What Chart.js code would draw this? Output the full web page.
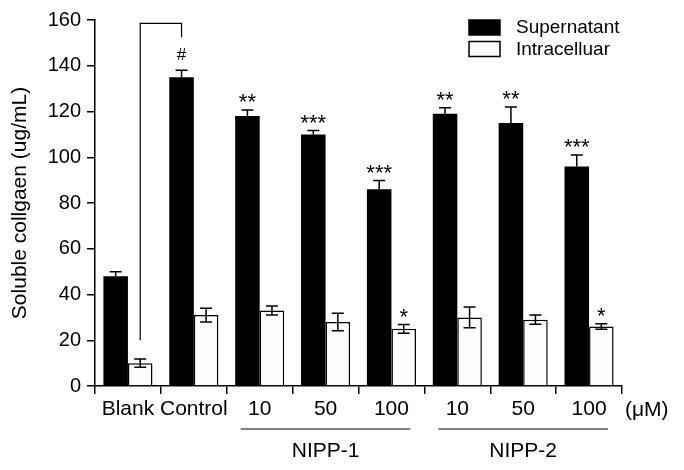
<!DOCTYPE html>
<html>
<head>
<meta charset="utf-8">
<script src="https://cdn.jsdelivr.net/npm/chart.js@4.4.1/dist/chart.umd.min.js"></script>
<style>
    html, body { margin: 0; padding: 0; background: #fff; }
    #wrap { width: 684px; height: 470px; }
</style>
</head>
<body>
<div id="wrap"><canvas id="collagenChart" width="684" height="470"></canvas></div>
<script>
// Данные
const CATEGORIES = ['Blank', 'Control', '10', '50', '100', '10', '50', '100'];
const SUPERNATANT = [48, 135, 118, 110, 86, 119, 115, 96];
const SUPERNATANT_ERR = [2, 3, 2.7, 1.7, 3.8, 2.6, 7, 5];
const INTRACELLULAR = [10, 31, 33, 28, 25, 30, 29, 26];
const INTRACELLULAR_ERR = [1.8, 3, 2, 3.8, 1.9, 4.5, 2, 1.2];
const SUPERNATANT_MARKS = ['', '#', '**', '***', '***', '**', '**', '***'];
const INTRACELLULAR_MARKS = ['', '', '', '', '*', '', '', '*'];
const GROUPS = [
    { label: 'NIPP-1', from: 2, to: 4 },
    { label: 'NIPP-2', from: 5, to: 7 }
];
const Y_TICKS = [0, 20, 40, 60, 80, 100, 120, 140, 160];

const FONT = '"Liberation Sans", Arial, sans-serif';

// Планки погрешностей и звёздочки
const errorBarsPlugin = {
    id: 'errorBars',
    afterDatasetsDraw(chart) {
        const ctx = chart.ctx;
        const y = chart.scales.y;
        const sets = [
            { meta: chart.getDatasetMeta(0), vals: SUPERNATANT, errs: SUPERNATANT_ERR, marks: SUPERNATANT_MARKS, lower: false },
            { meta: chart.getDatasetMeta(1), vals: INTRACELLULAR, errs: INTRACELLULAR_ERR, marks: INTRACELLULAR_MARKS, lower: true }
        ];
        ctx.save();
        ctx.strokeStyle = '#000';
        ctx.lineWidth = 1.5;
        sets.forEach(s => {
            s.meta.data.forEach((bar, i) => {
                const top = y.getPixelForValue(s.vals[i] + s.errs[i]);
                const bottom = s.lower ? y.getPixelForValue(s.vals[i] - s.errs[i]) : bar.y;
                ctx.beginPath();
                ctx.moveTo(bar.x, bottom);
                ctx.lineTo(bar.x, top);
                ctx.moveTo(bar.x - 6, top);
                ctx.lineTo(bar.x + 6, top);
                if (s.lower) {
                    ctx.moveTo(bar.x - 6, bottom);
                    ctx.lineTo(bar.x + 6, bottom);
                }
                ctx.stroke();

                const mark = s.marks[i];
                if (mark) {
                    ctx.fillStyle = '#000';
                    ctx.textAlign = 'center';
                    ctx.textBaseline = 'alphabetic';
                    if (mark === '#') {
                        ctx.font = '17px ' + FONT;
                        ctx.fillText(mark, bar.x, top - 10);
                    } else {
                        ctx.font = '22px ' + FONT;
                        ctx.fillText(mark, bar.x, top - 0.5);
                    }
                }
            });
        });
        ctx.restore();
    }
};

// Скобка, группы, единицы и легенда
const annotationsPlugin = {
    id: 'annotations',
    afterDraw(chart) {
        const ctx = chart.ctx;
        const x = chart.scales.x;
        const y = chart.scales.y;
        const area = chart.chartArea;
        const blankIntra = chart.getDatasetMeta(1).data[0];
        const controlSup = chart.getDatasetMeta(0).data[1];

        ctx.save();
        ctx.strokeStyle = '#000';
        ctx.fillStyle = '#000';
        ctx.lineWidth = 1.2;

        // скобка Blank - Control
        ctx.beginPath();
        ctx.moveTo(blankIntra.x, y.getPixelForValue(20));
        ctx.lineTo(blankIntra.x, y.getPixelForValue(158.5));
        ctx.lineTo(controlSup.x, y.getPixelForValue(158.5));
        ctx.lineTo(controlSup.x, y.getPixelForValue(152.5));
        ctx.stroke();

        // подписи групп
        const half = (x.getPixelForValue(1) - x.getPixelForValue(0)) / 2;
        ctx.font = '21px ' + FONT;
        ctx.textAlign = 'center';
        ctx.textBaseline = 'middle';
        GROUPS.forEach(g => {
            const x0 = x.getPixelForValue(g.from) - half + 14;
            const x1 = x.getPixelForValue(g.to) + half - 14;
            ctx.beginPath();
            ctx.moveTo(x0, 429);
            ctx.lineTo(x1, 429);
            ctx.stroke();
            ctx.fillText(g.label, (x0 + x1) / 2, 451);
        });

        // единицы
        ctx.textAlign = 'left';
        ctx.fillText('(\u03bcM)', area.right + 3, 410);

        // легенда
        const legend = [
            { label: 'Supernatant', fill: '#000' },
            { label: 'Intracelluar', fill: '#fcfcfc' }
        ];
        ctx.font = '19px ' + FONT;
        legend.forEach((item, i) => {
            const top = 20 + i * 21.5;
            ctx.fillStyle = item.fill;
            ctx.fillRect(469, top, 31, 15);
            ctx.lineWidth = 1.5;
            ctx.strokeRect(469, top, 31, 15);
            ctx.fillStyle = '#000';
            ctx.fillText(item.label, 516, top + 8);
        });
        ctx.restore();
    }
};

const ctx = document.getElementById('collagenChart').getContext('2d');
new Chart(ctx, {
    type: 'bar',
    data: {
        labels: CATEGORIES,
        datasets: [
            {
                label: 'Supernatant',
                data: SUPERNATANT,
                backgroundColor: '#000',
                borderColor: '#000',
                borderWidth: 0,
                categoryPercentage: 0.745,
                barPercentage: 1.0
            },
            {
                label: 'Intracelluar',
                data: INTRACELLULAR,
                backgroundColor: '#fcfcfc',
                borderColor: '#000',
                borderWidth: 1.5,
                borderSkipped: 'bottom',
                categoryPercentage: 0.745,
                barPercentage: 1.0
            }
        ]
    },
    options: {
        responsive: false,
        animation: false,
        devicePixelRatio: 1,
        layout: {
            padding: { left: 0, right: 62, top: 20, bottom: 0 }
        },
        plugins: {
            legend: { display: false },
            tooltip: { enabled: false }
        },
        scales: {
            x: {
                border: { color: '#000', width: 1.5 },
                grid: {
                    offset: true,
                    drawOnChartArea: false,
                    drawTicks: true,
                    tickLength: 8,
                    color: '#000',
                    lineWidth: 1.5
                },
                ticks: {
                    color: '#000',
                    padding: 3,
                    maxRotation: 0,
                    autoSkip: false,
                    font: { family: FONT, size: 21 }
                },
                afterFit(scale) {
                    scale.height = 84;
                }
            },
            y: {
                min: 0,
                max: 160,
                border: { color: '#000', width: 1.5 },
                grid: {
                    drawOnChartArea: false,
                    drawTicks: true,
                    tickLength: 8,
                    color: '#000',
                    lineWidth: 1.5
                },
                afterBuildTicks(scale) {
                    scale.ticks = Y_TICKS.map(v => ({ value: v }));
                },
                ticks: {
                    color: '#000',
                    padding: 6,
                    font: { family: FONT, size: 20 }
                },
                title: {
                    display: true,
                    text: 'Soluble collgaen (ug/mL)',
                    color: '#000',
                    padding: { top: 8, bottom: 0 },
                    font: { family: FONT, size: 21 }
                },
                afterFit(scale) {
                    scale.width = 95;
                }
            }
        }
    },
    plugins: [errorBarsPlugin, annotationsPlugin]
});
</script>
</body>
</html>
